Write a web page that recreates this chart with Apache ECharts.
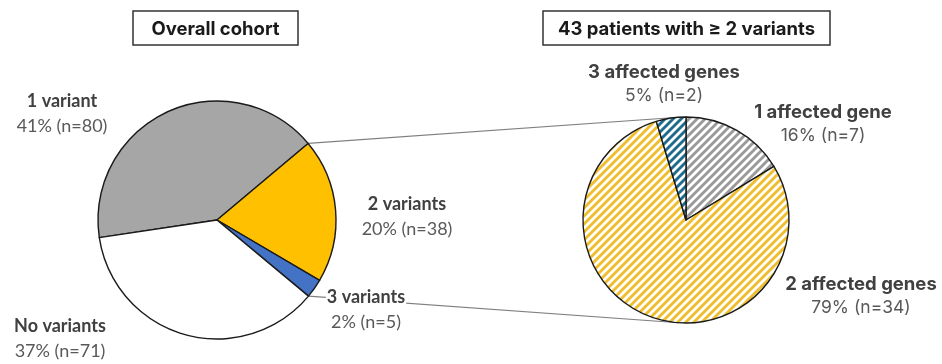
<!DOCTYPE html>
<html>
<head>
<meta charset="utf-8">
<script src="https://cdn.jsdelivr.net/npm/echarts@6/dist/echarts.min.js"></script>
<style>
  html, body { margin: 0; padding: 0; background: #fff; }
  #chart { width: 942px; height: 364px; }
</style>
</head>
<body>
<div id="chart"></div>
<script>
// ---- data ----
const leftNames = ['1 variant', '2 variants', '3 variants', 'No variants'];
const leftCounts = [80, 38, 5, 71];
const leftPct = ['41%', '20%', '2%', '37%'];

const rightNames = ['1 affected gene', '2 affected genes', '3 affected genes'];
const rightCounts = [7, 34, 2];
const rightPct = ['16%', '79%', '5%'];

const panelTitles = ['Overall cohort', '43 patients with \u2265 2 variants'];

// ---- layout ----
const LEFT_C = [217, 220], LEFT_R = 119, LEFT_START = 188.5;
const RIGHT_C = [686, 220], RIGHT_R = 103, RIGHT_START = 90;
const LEFT_LABEL_POS = [[62, 114], [407, 217], [366, 310], [60, 339]];
const RIGHT_LABEL_POS = [[823, 124], [861, 296], [664, 84]];
const TITLE_BOXES = [[133, 11, 165, 34], [543, 11, 287, 34]];

const LEFT_FONT = 'Lato, "Noto Sans", sans-serif';
const RIGHT_FONT = 'Inter, "Noto Sans", sans-serif';

// Diagonal stripe tile used as a fill pattern
function stripes(color) {
  const s = 8;
  const c = document.createElement('canvas');
  c.width = s; c.height = s;
  const g = c.getContext('2d');
  g.fillStyle = '#fff';
  g.fillRect(0, 0, s, s);
  g.strokeStyle = color;
  g.lineWidth = 2.9;
  g.beginPath();
  g.moveTo(-1, s + 1); g.lineTo(s + 1, -1);
  g.moveTo(-2, 2); g.lineTo(2, -2);
  g.moveTo(s - 2, s + 2); g.lineTo(s + 2, s - 2);
  g.stroke();
  return { image: c, repeat: 'repeat' };
}

const leftColors = ['#a6a6a6', '#ffc000', '#4472c4', '#ffffff'];
const rightColors = [stripes('#9a9a9a'), stripes('#efbe2e'), stripes('#1e6d8e')];

// Point on a pie circle at a given angle (degrees, counter-clockwise from 3 o'clock)
function onCircle(c, r, deg) {
  const a = deg * Math.PI / 180;
  return [c[0] + r * Math.cos(a), c[1] - r * Math.sin(a)];
}
// Tangent point on circle (c, r) seen from external point p; side = -1 upper, +1 lower
function tangent(p, c, r, side) {
  const dx = p[0] - c[0], dy = p[1] - c[1];
  const d = Math.hypot(dx, dy);
  const th = Math.atan2(dy, dx);
  const off = Math.acos(r / d);
  const cands = [th + off, th - off].map(a => [c[0] + r * Math.cos(a), c[1] + r * Math.sin(a)]);
  cands.sort((u, v) => u[1] - v[1]);
  return side < 0 ? cands[0] : cands[1];
}

// Connector lines start at the slice edges that bound the "2 variants" + "3 variants" share
const leftTotal = leftCounts.reduce((a, b) => a + b, 0);
const angTop = LEFT_START - leftCounts[0] / leftTotal * 360;
const angBot = LEFT_START - (leftCounts[0] + leftCounts[1] + leftCounts[2]) / leftTotal * 360;
const pTop = onCircle(LEFT_C, LEFT_R, angTop);
const pBot = onCircle(LEFT_C, LEFT_R, angBot);
const tTop = tangent(pTop, RIGHT_C, RIGHT_R, -1);
const tBot = tangent(pBot, RIGHT_C, RIGHT_R, 1);

function richFor(font, nSize, vSize, lh) {
  return {
    n: { fontFamily: font, fontSize: nSize, fontWeight: 'bold', color: '#404040', lineHeight: lh },
    v: { fontFamily: font, fontSize: vSize, color: '#595959', lineHeight: lh }
  };
}

const chart = echarts.init(document.getElementById('chart'), null, { renderer: 'canvas' });

const graphics = [];
[[pTop, tTop], [pBot, tBot]].forEach(([a, b]) => {
  graphics.push({
    type: 'line', z: 1, silent: true,
    shape: { x1: a[0], y1: a[1], x2: b[0], y2: b[1] },
    style: { stroke: '#7f7f7f', lineWidth: 1.2 }
  });
});
TITLE_BOXES.forEach((b, i) => {
  graphics.push({
    type: 'rect', z: 1, silent: true,
    shape: { x: b[0], y: b[1], width: b[2], height: b[3] },
    style: { fill: '#fff', stroke: '#333', lineWidth: 1.5 }
  });
  graphics.push({
    type: 'text', z: 2, silent: true,
    x: b[0] + b[2] / 2, y: b[1] + b[3] / 2 + 1,
    style: {
      text: panelTitles[i], align: 'center', verticalAlign: 'middle',
      font: 'bold 18.5px Inter, "Noto Sans", sans-serif', fill: '#1a1a1a'
    }
  });
});

chart.setOption({
  animation: false,
  backgroundColor: '#fff',
  graphic: graphics,
  series: [
    {
      type: 'pie',
      center: LEFT_C,
      radius: LEFT_R,
      startAngle: LEFT_START,
      clockwise: true,
      avoidLabelOverlap: false,
      silent: true,
      emphasis: { disabled: true },
      itemStyle: { borderColor: '#1a1a1a', borderWidth: 1.4 },
      label: {
        show: true,
        formatter: p => `{n|${p.name}}\n{v|${leftPct[p.dataIndex]} (n=${p.value})}`,
        rich: richFor(LEFT_FONT, 18, 18, 25)
      },
      labelLine: { show: false },
      labelLayout: p => {
        const pos = LEFT_LABEL_POS[p.dataIndex];
        return { x: pos[0], y: pos[1], align: 'center', verticalAlign: 'middle' };
      },
      data: leftNames.map((n, i) => {
        const item = { name: n, value: leftCounts[i], itemStyle: { color: leftColors[i] } };
        if (i === 2) item.label = { backgroundColor: '#fff', padding: [0, 1] };
        return item;
      })
    },
    {
      type: 'pie',
      center: RIGHT_C,
      radius: RIGHT_R,
      startAngle: RIGHT_START,
      clockwise: true,
      avoidLabelOverlap: false,
      silent: true,
      emphasis: { disabled: true },
      itemStyle: { borderColor: '#1a1a1a', borderWidth: 1.4 },
      label: {
        show: true,
        formatter: p => `{n|${p.name}}\n{v|${rightPct[p.dataIndex]} (n=${p.value})}`,
        rich: richFor(RIGHT_FONT, 18.5, 17.5, 24)
      },
      labelLine: { show: false },
      labelLayout: p => {
        const pos = RIGHT_LABEL_POS[p.dataIndex];
        return { x: pos[0], y: pos[1], align: 'center', verticalAlign: 'middle' };
      },
      data: rightNames.map((n, i) => ({ name: n, value: rightCounts[i], itemStyle: { color: rightColors[i] } }))
    }
  ]
});
</script>
</body>
</html>
